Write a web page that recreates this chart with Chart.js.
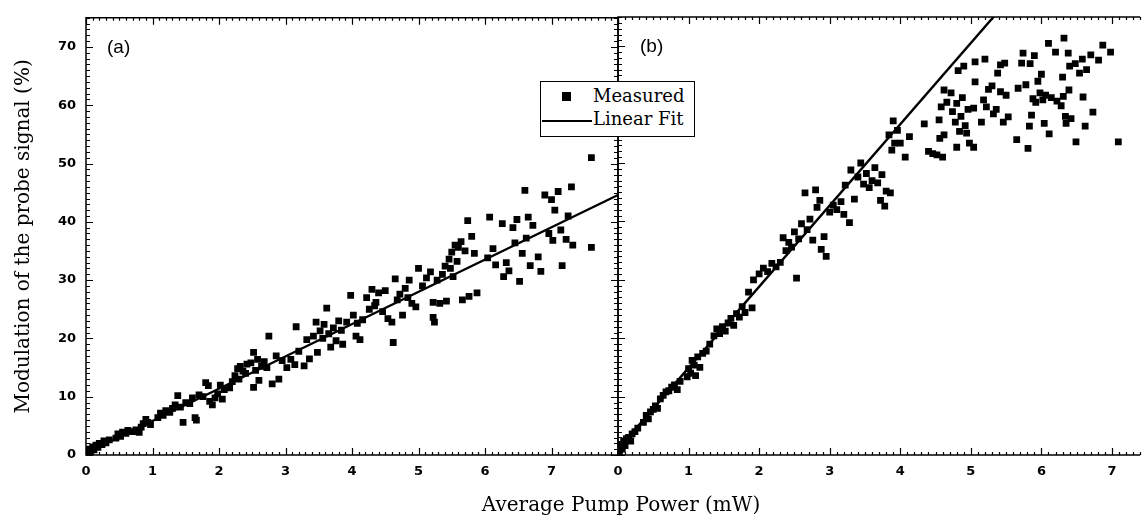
<!DOCTYPE html>
<html>
<head>
<meta charset="utf-8">
<script src="https://cdn.jsdelivr.net/npm/chart.js@4.4.1/dist/chart.umd.min.js"></script>
<style>
  body { margin: 0; background: #fff; }
  #wrap { position: relative; width: 1145px; height: 521px; overflow: hidden; background: #fff; }
  .panel { position: absolute; top: 0; height: 521px; }
  #panelA { left: 0; width: 640px; }
  #panelB { left: 600px; width: 545px; }
  #xTitle { position: absolute; left: 421px; width: 400px; top: 492px; text-align: center;
            font: 20px "DejaVu Serif", serif; color: #000; }
  #legend { position: absolute; left: 540px; top: 81px; width: 153px; height: 54px;
            border: 1.5px solid #000; background: #fff; font: 18px "DejaVu Serif", serif; color: #000; }
  #legend .row { position: absolute; left: 0; height: 22px; line-height: 22px; }
  #legend .sq { position: absolute; left: 21px; top: 7px; width: 9px; height: 9px; background: #000; }
  #legend .ln { position: absolute; left: 1px; top: 12px; width: 50px; height: 2px; background: #000; }
  #legend .txt { position: absolute; left: 52px; white-space: nowrap; }
</style>
</head>
<body>
<div id="wrap">
  <div class="panel" id="panelA"><canvas id="chartA"></canvas></div>
  <div class="panel" id="panelB"><canvas id="chartB"></canvas></div>
  <div id="legend">
    <div class="row" style="top:3px"><span class="sq"></span><span class="txt">Measured</span></div>
    <div class="row" style="top:26px"><span class="ln"></span><span class="txt">Linear Fit</span></div>
  </div>
  <div id="xTitle">Average Pump Power (mW)</div>
</div>
<script>
// tick labels
const yTicks = [0, 10, 20, 30, 40, 50, 60, 70];
const xTicksA = [0, 1, 2, 3, 4, 5, 6, 7];
const xTicksB = [0, 1, 2, 3, 4, 5, 6, 7];
const yTitle = 'Modulation of the probe signal (%)';

// (a) measured points [power mW, modulation %]
const measuredA = [
  [0.02,0.4],[0.05,1.0],[0.07,0.6],[0.1,1.4],[0.12,0.9],[0.15,1.7],[0.18,1.3],[0.2,2.0],[0.24,1.8],[0.27,2.4],
  [0.3,2.1],[0.35,2.6],[0.45,2.9],[0.48,3.6],[0.52,3.2],[0.55,3.9],[0.6,3.7],[0.63,4.2],[0.7,4.0],[0.75,4.3],
  [0.8,3.9],[0.83,4.8],[0.86,5.4],[0.9,6.1],[0.93,5.6],[0.97,5.2],
  [1.08,6.4],[1.12,7.2],[1.16,6.8],[1.2,7.6],[1.26,7.3],[1.3,8.0],[1.34,8.6],[1.38,10.2],[1.42,8.2],[1.46,5.6],
  [1.5,9.0],[1.56,8.8],[1.6,9.8],[1.64,6.4],[1.66,6.0],[1.7,10.3],[1.76,10.0],[1.8,12.4],[1.84,11.9],[1.86,9.2],
  [1.9,8.6],[1.94,9.8],[1.98,10.5],[2.02,12.0],[2.05,9.6],[2.08,11.2],
  [2.16,11.5],[2.2,12.6],[2.24,13.6],[2.28,14.8],[2.32,15.2],[2.36,14.4],[2.42,15.6],[2.48,15.8],[2.52,17.6],[2.55,14.5],
  [2.52,11.6],[2.6,12.8],[2.64,15.2],[2.68,16.0],[2.75,20.4],[2.8,12.2],[2.86,17.0],[2.9,13.0],[2.95,16.2],
  [2.3,13.0],[2.4,14.0],[2.58,16.4],[2.72,15.0],
  [3.02,15.0],[3.08,16.4],[3.14,15.5],[3.16,22.0],[3.28,15.3],[3.32,19.8],[3.36,16.5],[3.42,20.4],[3.46,22.8],[3.48,17.6],
  [3.52,21.3],[3.58,22.4],[3.62,25.2],[3.65,20.8],[3.68,18.5],[3.72,21.8],[3.76,19.6],[3.8,23.0],[3.86,19.0],[3.92,22.8],
  [3.98,27.4],[4.02,24.0],[4.06,20.4],[4.12,19.8],[4.16,23.2],
  [3.2,17.8],[3.56,20.0],[3.84,21.4],[4.08,22.6],
  [4.22,27.0],[4.26,25.0],[4.3,28.4],[4.36,26.2],[4.4,27.8],[4.46,24.6],[4.5,28.2],[4.54,23.4],[4.6,22.8],[4.62,19.3],
  [4.65,30.2],[4.72,27.6],[4.76,24.0],[4.8,28.6],[4.86,30.0],[4.9,26.0],[4.96,25.4],[5.0,32.0],
  [4.34,25.6],[4.68,26.6],[4.84,27.0],
  [5.06,29.0],[5.12,30.4],[5.18,31.4],[5.22,26.2],[5.22,23.6],[5.24,22.8],[5.28,30.0],[5.32,26.0],[5.36,31.0],[5.4,32.4],
  [5.42,26.4],[5.46,33.6],[5.5,34.8],[5.52,30.6],[5.55,36.0],[5.6,35.6],[5.64,36.6],[5.66,26.6],[5.7,35.0],[5.74,40.2],
  [5.76,27.2],[5.8,37.5],[5.84,34.6],[5.88,27.8],[5.48,32.0],[5.58,33.2],
  [6.04,33.8],[6.07,40.8],[6.12,35.4],[6.16,32.6],[6.26,39.7],[6.28,30.6],[6.32,33.0],[6.36,31.6],[6.42,39.0],[6.45,36.4],
  [6.48,40.4],[6.52,29.8],[6.56,34.6],[6.6,45.4],[6.62,37.2],[6.65,40.8],[6.68,32.5],[6.72,39.4],[6.8,34.0],[6.84,31.5],
  [6.9,44.6],[6.96,38.0],[7.0,43.8],[7.02,36.8],[7.05,42.0],[7.1,45.2],[7.14,38.6],[7.16,32.5],[7.22,37.0],[7.25,41.0],
  [7.3,46.0],[7.32,36.0],[7.6,35.6],[7.6,51.0]
];
const fitA = [[0, 0.3], [8, 44.6]];

// (b) measured points
const measuredB = [
  [0.02,0.5],[0.04,1.8],[0.06,1.0],[0.08,2.4],[0.1,1.6],[0.12,2.8],[0.15,3.0],[0.18,2.4],[0.2,3.6],[0.24,4.0],
  [0.28,4.6],[0.36,5.6],[0.4,6.8],[0.43,6.2],[0.46,7.4],[0.5,7.8],[0.53,8.4],[0.56,8.0],[0.6,9.6],[0.64,10.2],
  [0.68,10.8],[0.72,11.0],[0.76,11.6],[0.8,12.0],[0.84,11.2],[0.88,12.6],
  [0.98,13.4],[1.0,14.8],[1.03,14.0],[1.05,16.2],[1.08,15.4],[1.1,13.6],[1.13,16.8],[1.16,15.0],[1.2,17.4],[1.25,17.8],
  [1.3,19.0],[1.36,20.4],[1.4,21.6],[1.44,20.8],[1.48,22.0],[1.52,21.2],[1.56,22.6],[1.6,23.4],[1.64,22.2],[1.68,24.2],
  [1.72,23.6],[1.76,25.4],[1.8,24.4],[1.85,27.9],[1.9,25.2],[1.92,30.0],
  [2.0,31.0],[2.06,32.0],[2.12,31.4],[2.18,32.8],[2.24,32.2],[2.3,33.0],[2.34,37.2],[2.38,35.0],[2.42,36.4],[2.46,35.6],
  [2.5,38.2],[2.53,30.3],[2.56,37.0],[2.6,39.6],[2.65,44.9],[2.68,38.6],[2.72,40.4],[2.76,36.8],[2.8,45.4],[2.82,42.4],
  [2.86,43.6],[2.88,35.2],[2.92,37.4],[2.95,34.0],
  [3.0,41.6],[3.05,42.8],[3.1,42.0],[3.16,43.4],[3.2,41.2],[3.22,46.2],[3.28,39.8],[3.3,48.8],[3.35,43.8],[3.4,47.6],
  [3.44,50.0],[3.48,46.4],[3.52,48.2],[3.56,45.8],[3.6,47.0],[3.64,49.2],[3.68,46.6],[3.72,43.6],[3.74,48.0],[3.78,42.6],
  [3.8,45.2],[3.84,54.8],[3.86,44.9],[3.88,52.2],[3.9,57.2],[3.92,53.4],[3.96,55.6],
  [4.0,53.4],[4.07,51.0],[4.13,54.5],[4.34,56.7],[4.4,52.0],[4.46,51.6],[4.52,51.4],[4.56,54.2],[4.6,51.0],[4.62,54.8],
  [4.55,57.4],[4.58,59.6],[4.66,60.4],[4.62,62.5],[4.72,62.0],[4.74,58.8],[4.78,57.0],[4.8,60.2],[4.8,52.7],[4.82,65.8],
  [4.84,55.4],[4.86,58.0],[4.88,61.2],[4.9,66.6],[4.92,56.4],[4.94,55.1],[4.96,59.2],[4.98,53.4],
  [5.04,59.4],[5.04,52.7],[5.06,67.3],[5.06,63.9],[5.15,57.0],[5.18,60.8],[5.2,67.8],[5.22,59.6],[5.25,62.6],[5.3,63.2],
  [5.32,58.4],[5.36,59.2],[5.38,65.4],[5.42,66.8],[5.42,62.2],[5.46,57.0],[5.48,67.1],[5.5,61.6],[5.53,57.9],[5.65,54.0],
  [5.67,62.8],[5.72,67.1],[5.74,68.8],[5.78,63.4],[5.81,52.5],[5.84,67.0],[5.83,56.3],[5.86,58.2],[5.88,61.0],[5.9,68.4],
  [5.92,60.4],[5.95,64.0],[5.98,62.0],
  [6.0,65.2],[6.02,60.8],[6.04,56.8],[6.06,61.6],[6.1,70.5],[6.11,55.0],[6.14,61.2],[6.2,69.0],[6.22,60.6],[6.28,59.8],
  [6.3,64.7],[6.32,71.4],[6.31,61.4],[6.34,58.0],[6.35,56.8],[6.38,68.8],[6.39,62.5],[6.4,66.6],[6.42,57.6],[6.48,67.0],
  [6.49,53.6],[6.54,65.4],[6.58,67.8],[6.59,61.3],[6.62,56.3],[6.64,66.0],[6.7,68.5],[6.73,58.7],[6.81,67.6],[6.87,70.2],
  [6.98,69.0],[7.09,53.6]
];
const fitB = [[0, 1.0], [5.5, 77.5]];

const toXY = arr => arr.map(p => ({ x: p[0], y: p[1] }));

// frame with inward ticks, like the original plotting program
const frameTicks = {
  id: 'frameTicks',
  afterDraw(chart, args, opts) {
    const { ctx, chartArea: a, scales: { x, y } } = chart;
    ctx.save();
    ctx.strokeStyle = '#000';
    ctx.lineWidth = 1.5;
    ctx.beginPath();
    ctx.moveTo(a.right, a.top); ctx.lineTo(a.left, a.top);
    ctx.lineTo(a.left, a.bottom); ctx.lineTo(a.right, a.bottom);
    if (opts.right) { ctx.moveTo(a.right, a.top); ctx.lineTo(a.right, a.bottom); }
    ctx.stroke();

    ctx.lineWidth = 1.2;
    ctx.beginPath();
    for (let i = 0; ; i++) {
      const v = x.min + i * 0.1;
      if (v > x.max + 1e-6) break;
      const px = Math.round(x.getPixelForValue(v)) + 0.5;
      const len = Math.abs(v - Math.round(v)) < 1e-6 ? 7 : 3;
      ctx.moveTo(px, a.bottom); ctx.lineTo(px, a.bottom - len);
      ctx.moveTo(px, a.top); ctx.lineTo(px, a.top + len);
    }
    for (let v = 0; v <= y.max; v += 1) {
      const py = Math.round(y.getPixelForValue(v)) + 0.5;
      const len = v % 10 === 0 ? 7 : 4;
      ctx.moveTo(a.left, py); ctx.lineTo(a.left + len, py);
      if (opts.right) { ctx.moveTo(a.right, py); ctx.lineTo(a.right - len, py); }
    }
    ctx.stroke();

    ctx.fillStyle = '#000';
    ctx.font = '19px "Liberation Sans", Arial, sans-serif';
    ctx.textBaseline = 'alphabetic';
    ctx.fillText(opts.label, a.left + opts.labelDx, a.top + 35);
    ctx.restore();
  }
};

function makeChart(id, measured, fit, xMax, xTicks, opts) {
  return new Chart(document.getElementById(id), {
    type: 'scatter',
    data: {
      datasets: [{
        label: 'Measured',
        data: toXY(measured),
        pointStyle: 'rect',
        pointRadius: 4.8,
        pointHoverRadius: 4.8,
        borderWidth: 0,
        backgroundColor: '#000'
      }, {
        label: 'Linear Fit',
        type: 'line',
        data: toXY(fit),
        borderColor: '#000',
        borderWidth: 2.4,
        pointRadius: 0,
        fill: false
      }]
    },
    options: {
      responsive: true,
      maintainAspectRatio: false,
      animation: false,
      layout: { padding: { top: 17, right: opts.padRight, bottom: 0, left: 0 } },
      plugins: {
        legend: { display: false },
        tooltip: { enabled: false },
        frameTicks: { right: opts.rightAxis, label: opts.label, labelDx: opts.labelDx }
      },
      scales: {
        x: {
          type: 'linear', min: 0, max: xMax,
          grid: { display: false, drawTicks: false },
          border: { display: false },
          afterBuildTicks: s => { s.ticks = xTicks.map(v => ({ value: v })); },
          afterFit: s => { s.height = 66; },
          ticks: {
            padding: 9,
            color: '#000',
            font: { family: '"DejaVu Sans", sans-serif', size: 13, weight: 'bold' }
          }
        },
        y: {
          type: 'linear', min: 0, max: 75,
          grid: { display: false, drawTicks: false },
          border: { display: false },
          afterBuildTicks: s => { s.ticks = yTicks.map(v => ({ value: v })); },
          afterFit: s => { s.width = opts.yWidth; },
          ticks: {
            display: opts.yLabels,
            padding: 10,
            color: '#000',
            font: { family: '"DejaVu Sans", sans-serif', size: 13, weight: 'bold' }
          },
          title: {
            display: opts.yLabels,
            text: yTitle,
            color: '#000',
            padding: { top: 12, bottom: 0 },
            font: { family: '"DejaVu Serif", serif', size: 20 }
          }
        }
      }
    },
    plugins: [frameTicks]
  });
}

makeChart('chartA', measuredA, fitA, 8, xTicksA,
  { padRight: 22, rightAxis: true, yWidth: 86, yLabels: true, label: '(a)', labelDx: 21 });
makeChart('chartB', measuredB, fitB, 7.40, xTicksB,
  { padRight: 0, rightAxis: false, yWidth: 18, yLabels: false, label: '(b)', labelDx: 22 });
</script>
</body>
</html>
